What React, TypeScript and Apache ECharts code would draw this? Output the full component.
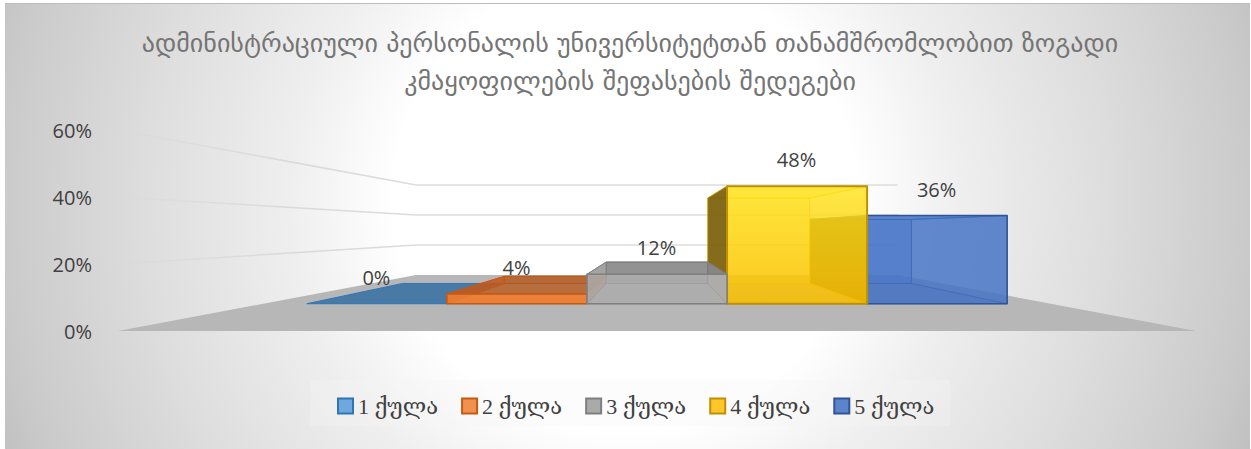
import React, { useEffect, useRef } from "react";
import * as echarts from "echarts";

const titleText = "ადმინისტრაციული პერსონალის უნივერსიტეტთან თანამშრომლობით ზოგადი\nკმაყოფილების შეფასების შედეგები";
const categories = ["1 ქულა", "2 ქულა", "3 ქულა", "4 ქულა", "5 ქულა"];
const seriesValues = [0, 4, 12, 48, 36];
const wallTicks = [0, 20, 40, 60];
// painter's order of the bars: right-hand bars first, so nearer faces overlap as in the picture
const drawOrder = [4, 3, 0, 1, 2];

const W = 1251, H = 449;
const VX = 657, VY = 229.6;               // vanishing point
const S_FLOOR_BACK = 0.447, S_BAR_FRONT = 0.731, S_BAR_BACK = 0.531;
const FLOOR_OVERHANG = 60;
const SANS = '"Open Sans","DejaVu Sans",sans-serif';

type Pal = { icon: string; line: string; front: any; back: string; bottom: string; left: string; right: string; top: string; lw: number };
const grad = (a: string, b: string) => new echarts.graphic.LinearGradient(0, 0, 0, 1, [{ offset: 0, color: a }, { offset: 1, color: b }]);
const palettes: Pal[] = [
  { icon: "#6fa8dc", line: "#2e75b6", front: "rgba(91,155,213,.85)", back: "rgba(91,155,213,.2)", bottom: "rgba(45,105,160,.8)", left: "rgba(91,155,213,.3)", right: "rgba(91,155,213,.3)", top: "rgba(45,105,160,.8)", lw: 1 },
  { icon: "#f0914f", line: "#c55a11", front: "rgba(237,125,49,.92)", back: "rgba(190,90,30,.35)", bottom: "rgba(237,125,49,.25)", left: "rgba(200,90,30,.6)", right: "rgba(200,90,30,.5)", top: "rgba(178,88,30,.72)", lw: 1.5 },
  { icon: "#aaaaaa", line: "#7f7f7f", front: "rgba(170,170,170,.72)", back: "rgba(130,130,130,.3)", bottom: "rgba(170,170,170,.2)", left: "rgba(170,170,170,.55)", right: "rgba(182,182,178,.92)", top: "rgba(118,118,118,.72)", lw: 1.5 },
  { icon: "#ffc72a", line: "#bf9000", front: null, back: "rgba(255,215,40,.4)", bottom: "rgba(235,180,0,.3)", left: "rgba(112,86,5,.86)", right: "rgba(255,208,30,.2)", top: "rgba(255,225,60,.45)", lw: 2 },
  { icon: "#5b84cc", line: "#2f5597", front: "rgba(68,114,196,.8)", back: "rgba(90,135,215,.55)", bottom: "rgba(60,100,180,.25)", left: "rgba(110,85,30,.95)", right: "rgba(90,135,215,.2)", top: "rgba(90,135,215,.3)", lw: 1.5 },
];
palettes[3].front = grad("rgba(255,228,25,.76)", "rgba(250,190,0,.82)");

const proj = (x: number, y: number, s: number): number[] => [VX + s * (x - VX), VY + s * (y - VY)];

function renderBar(idx: number) {
  return (params: any, api: any) => {
    const i = api.value(0), v = api.value(1);
    const p = palettes[idx];
    const [cx, y0] = api.coord([i, 0]);
    const yv = api.coord([i, v])[1];
    const hw = api.size([1, 0])[0] / 2;
    const l = cx - hw, r = cx + hw;
    const fbl = proj(l, y0, S_BAR_FRONT), fbr = proj(r, y0, S_BAR_FRONT);
    const ftl = proj(l, yv, S_BAR_FRONT), ftr = proj(r, yv, S_BAR_FRONT);
    const bbl = proj(l, y0, S_BAR_BACK), bbr = proj(r, y0, S_BAR_BACK);
    const btl = proj(l, yv, S_BAR_BACK), btr = proj(r, yv, S_BAR_BACK);
    const face = (pts: number[][], fill: any, lw = p.lw * 0.7, stroke = p.line) => ({
      type: "polygon", shape: { points: pts }, style: { fill, stroke, lineWidth: lw, lineJoin: "round" },
    });
    const gold = "rgba(240,200,30,.8)";
    const children: any[] = [];
    if (v > 0) {
      children.push(face([btl, btr, bbr, bbl], p.back, 1, idx === 3 ? gold : p.line));
      children.push(face([bbl, bbr, fbr, fbl], p.bottom, 0.5));
      children.push(face([btr, ftr, fbr, bbr], p.right, 0.8, idx === 3 ? gold : p.line));
      children.push(face([btl, btr, ftr, ftl], p.top, 1, idx === 3 ? gold : p.line));
      children.push(face([btl, ftl, fbl, bbl], p.left, 0.8, idx === 4 ? "rgba(90,135,215,.6)" : p.line));
      children.push(face([ftl, ftr, fbr, fbl], p.front, p.lw));
    } else {
      children.push(face([bbl, bbr, fbr, fbl], p.top, 1));
    }
    children.push({
      type: "text",
      style: {
        text: v + "%", x: (ftl[0] + ftr[0]) / 2 - 0.5, y: ftl[1] - 26.5,
        textAlign: "center", textVerticalAlign: "middle",
        fontSize: 20, fontFamily: SANS, fill: "#404040",
      },
    });
    return { type: "group", children };
  };
}

function renderWalls(params: any, api: any) {
  const t = api.value(0);
  const cs = params.coordSys;
  const x0 = cs.x - FLOOR_OVERHANG, x1 = cs.x + cs.width + FLOOR_OVERHANG;
  const y = api.coord([0, t])[1];
  const a = [x0, y], b = proj(x0, y, S_FLOOR_BACK), c = proj(x1, y, S_FLOOR_BACK), d = [x1, y];
  if (t === 0) {
    return { type: "polygon", shape: { points: [a, b, c, d] }, style: { fill: "#b7b7b7", stroke: "none" } };
  }
  return {
    type: "group",
    children: [
      {
        type: "line", shape: { x1: a[0], y1: a[1], x2: b[0], y2: b[1] },
        style: {
          lineWidth: 1.5,
          stroke: new echarts.graphic.LinearGradient(0, 0, 1, 0, [
            { offset: 0, color: "rgba(205,205,205,0)" },
            { offset: 0.6, color: "rgba(215,215,215,.9)" },
            { offset: 1, color: "#dcdcdc" },
          ]),
        },
      },
      { type: "line", shape: { x1: b[0], y1: b[1], x2: c[0], y2: c[1] }, style: { lineWidth: 1.5, stroke: "#dcdcdc" } },
    ],
  };
}

export default function App() {
  const ref = useRef<HTMLDivElement>(null);
  useEffect(() => {
    const chart = echarts.init(ref.current!, null, { renderer: "svg" });
    const bg = new echarts.graphic.RadialGradient(625, 200, 680, [
      { offset: 0, color: "#ffffff" },
      { offset: 0.34, color: "#ffffff" },
      { offset: 0.49, color: "#efefef" },
      { offset: 0.7, color: "#dedede" },
      { offset: 0.91, color: "#cbcbcb" },
      { offset: 1, color: "#bfbfbf" },
    ], true);
    chart.setOption({
      animation: false,
      backgroundColor: "#ffffff",
      title: {
        text: titleText, left: 625, top: 19, textAlign: "center",
        textStyle: { fontFamily: '"DejaVu Sans",sans-serif', fontSize: 26, fontWeight: "normal", color: "#757575", lineHeight: 38 },
      },
      graphic: [
        { type: "rect", z: -10, silent: true, shape: { x: 5, y: 3, width: 1245, height: 446 }, style: { fill: bg } },
        { type: "rect", z: -9, silent: true, shape: { x: 5, y: 3, width: 1245, height: 1 }, style: { fill: "#bdbdbd" } },
        { type: "rect", z: -8, silent: true, shape: { x: 310, y: 380, width: 640, height: 46 }, style: { fill: "rgba(244,244,244,.3)" } },
      ],
      legend: {
        left: 332, top: 390, itemWidth: 15, itemHeight: 15, itemGap: 23, icon: "rect", selectedMode: false,
        textStyle: { fontFamily: '"Liberation Serif","DejaVu Serif",serif', fontSize: 22, color: "#404040" },
        data: categories.map((name, i) => ({
          name,
          itemStyle: { color: palettes[i].icon, borderColor: palettes[i].line, borderWidth: 2 },
        })),
      },
      grid: { left: 178, right: W - 1136, top: 130, bottom: H - 331 },
      xAxis: { type: "category", data: categories, show: false, boundaryGap: true },
      yAxis: {
        type: "value", min: 0, max: 60, interval: 20,
        axisLine: { show: false }, axisTick: { show: false }, splitLine: { show: false },
        axisLabel: { formatter: "{value}%", margin: 86, fontFamily: SANS, fontSize: 20, color: "#404040", padding: [0, 0, 6, 0] },
      },
      series: [
        { type: "custom", name: "walls", silent: true, clip: false, data: wallTicks.map((t) => [t]), encode: { y: 0 }, renderItem: renderWalls },
        ...drawOrder.map((i) => ({
          type: "custom", name: categories[i], silent: true, clip: false,
          itemStyle: { color: palettes[i].icon },
          data: [[i, seriesValues[i]]], encode: { x: 0, y: 1 }, renderItem: renderBar(i),
        })),
      ],
    });
    return () => chart.dispose();
  }, []);
  return <div ref={ref} style={{ position: "fixed", left: 0, top: 0, width: W, height: H }} />;
}
